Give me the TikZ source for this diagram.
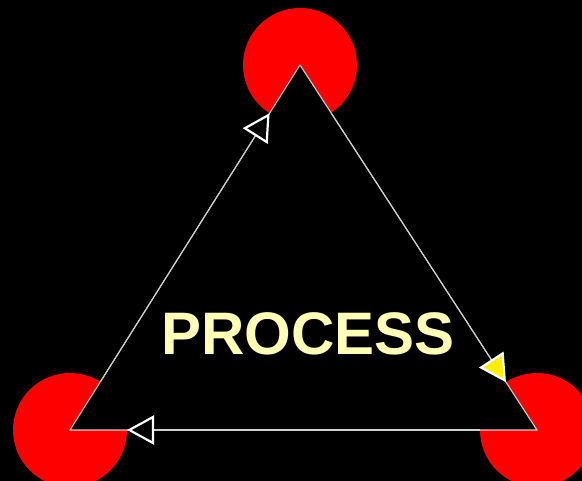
\documentclass[tikz,border=0pt]{standalone}
\usepackage{fontspec}
\setmainfont{Liberation Sans}
\usepackage{tikz}
\usetikzlibrary{arrows.meta}
\definecolor{bg}{RGB}{0,0,0}
\definecolor{blob}{RGB}{255,0,0}
\definecolor{rline}{RGB}{205,205,205}
\definecolor{cream}{RGB}{255,255,182}
\definecolor{tipyellow}{RGB}{255,238,0}
\tikzset{
  stage/.style  ={circle, fill=blob, minimum size=114pt, inner sep=0pt, outer sep=0pt},
  rim/.style    ={draw=rline, line width=1.1pt, fill=bg, line join=miter},
  flow/.style   ={-{Triangle[length=27pt, width=29pt, line width=2.2pt, color=white, fill=bg]},
                  draw=rline, line width=1.1pt},
  hotflow/.style={-{Triangle[length=27pt, width=29pt, line width=2.2pt, color=white, fill=tipyellow]},
                  draw=rline, line width=1.1pt},
  title/.style  ={font=\fontsize{60}{60}\selectfont\bfseries, text=cream},
}

\begin{document}
\begin{tikzpicture}[x=1pt, y=-1pt]
\useasboundingbox (0,0) rectangle (582,481);
\fill[bg] (0,0) rectangle (582,481);
\clip (0,0) rectangle (582,481);
\foreach \name/\x/\y in {top/300/65, left/70/430, right/537/430} {
  \node[stage] (\name) at (\x,\y) {};
}
\draw[rim] (top.center) -- (right.center) -- (left.center) -- cycle;
\draw[flow] (left) -- (top);
\draw[hotflow] (top) -- (right);
\draw[flow] (right) -- (left);
\node[title] (caption) at (308,334) {PROCESS};
\end{tikzpicture}
\end{document}
